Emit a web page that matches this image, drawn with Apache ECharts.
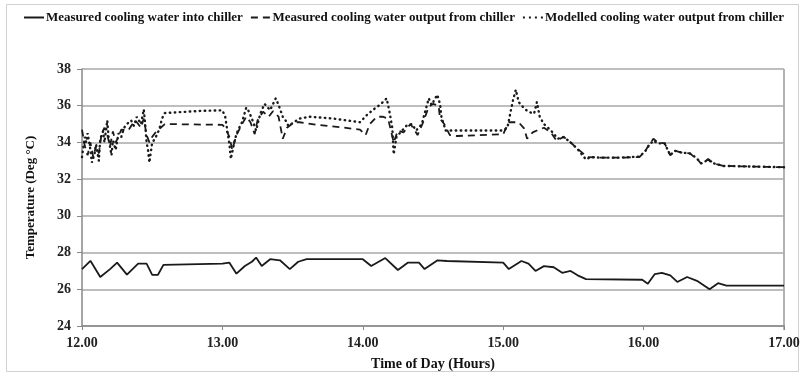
<!DOCTYPE html>
<html>
<head>
<meta charset="utf-8">
<script src="https://cdn.jsdelivr.net/npm/echarts@6/dist/echarts.min.js"></script>
<style>
  html, body { margin: 0; padding: 0; background: #fff; }
  #chart { width: 804px; height: 376px; }
</style>
</head>
<body>
<div id="chart"></div>
<script>
// measured cooling water into chiller (solid)
const inletTime = [12.00,12.06,12.13,12.20,12.25,12.32,12.40,12.46,12.50,12.54,12.58,13.00,13.05,13.10,13.16,13.21,13.24,13.28,13.34,13.41,13.48,13.54,13.60,14.00,14.06,14.16,14.25,14.32,14.40,14.44,14.53,14.60,15.00,15.04,15.13,15.18,15.23,15.29,15.36,15.42,15.48,15.53,15.59,15.99,16.03,16.08,16.13,16.19,16.24,16.31,16.38,16.47,16.53,16.59,17.00]
const inletTemp = [27.1,27.55,26.67,27.1,27.45,26.8,27.4,27.4,26.78,26.78,27.33,27.4,27.45,26.85,27.27,27.5,27.73,27.27,27.64,27.58,27.1,27.5,27.64,27.64,27.27,27.7,27.05,27.45,27.45,27.1,27.57,27.54,27.45,27.1,27.54,27.4,27.0,27.26,27.2,26.9,27.0,26.76,26.55,26.52,26.3,26.83,26.9,26.76,26.4,26.67,26.46,26.0,26.33,26.2,26.2]

// measured cooling water output from chiller (dashed)
const outletTime = [12.00,12.02,12.04,12.06,12.08,12.10,12.12,12.14,12.16,12.18,12.20,12.22,12.24,12.26,12.28,12.33,12.35,12.38,12.42,12.44,12.46,12.48,12.50,12.53,12.56,12.59,13.00,13.02,13.05,13.07,13.10,13.14,13.17,13.20,13.23,13.25,13.29,13.33,13.36,13.40,13.43,13.46,13.51,13.55,13.67,13.84,13.98,14.02,14.05,14.10,14.14,14.18,14.20,14.22,14.25,14.29,14.34,14.37,14.39,14.43,14.47,14.50,14.54,14.55,14.58,14.62,14.67,15.00,15.04,15.11,15.15,15.17,15.21,15.24,15.29,15.34,15.38,15.43,15.48,15.53,15.60,15.69,15.83,15.97,16.01,16.04,16.07,16.10,16.15,16.19,16.22,16.27,16.33,16.38,16.41,16.46,16.50,16.57,17.00]
const outletTemp = [34.7,33.8,33.3,34.0,33.2,33.8,33.4,34.5,34.8,34.4,33.8,34.6,34.0,34.3,34.7,34.65,34.9,35.2,34.8,35.3,34.4,34.0,34.3,34.6,34.8,35.0,34.96,34.8,34.3,33.6,34.4,35.0,35.4,35.1,34.45,35.2,35.67,35.4,35.7,35.4,34.2,34.8,35.1,35.1,34.96,34.83,34.7,34.4,35.0,35.4,35.4,35.3,34.65,34.0,34.65,34.55,35.0,34.65,34.4,35.1,35.95,36.1,36.0,35.3,35.0,34.4,34.35,34.45,35.1,35.1,34.75,34.2,34.55,34.65,34.8,34.55,34.1,34.3,34.0,33.65,33.2,33.17,33.17,33.2,33.5,33.9,34.2,34.0,33.95,33.3,33.55,33.45,33.4,33.1,32.85,33.1,32.85,32.72,32.65]

// modelled cooling water output from chiller (dotted)
const modelTime = [12.00,12.02,12.03,12.04,12.06,12.07,12.09,12.10,12.12,12.13,12.15,12.16,12.18,12.19,12.21,12.22,12.24,12.26,12.28,12.30,12.32,12.35,12.37,12.39,12.42,12.44,12.45,12.46,12.47,12.48,12.50,12.52,12.55,12.57,12.59,12.70,12.85,13.00,13.02,13.05,13.06,13.09,13.11,13.14,13.17,13.19,13.22,13.24,13.27,13.30,13.34,13.38,13.40,13.43,13.45,13.47,13.51,13.55,13.62,13.79,13.98,14.03,14.07,14.13,14.17,14.19,14.21,14.22,14.24,14.28,14.31,14.35,14.38,14.42,14.44,14.47,14.49,14.53,14.55,14.56,14.59,15.00,15.03,15.05,15.07,15.09,15.11,15.15,15.18,15.22,15.24,15.26,15.29,15.34,15.39,15.43,15.48,15.53,15.59,15.62,15.69,15.83,15.97,16.01,16.04,16.07,16.10,16.15,16.19,16.22,16.27,16.33,16.38,16.41,16.46,16.50,16.57,17.00]
const modelTemp = [33.2,34.3,34.0,34.5,33.6,32.9,33.4,33.9,33.0,34.2,34.6,34.0,35.2,34.2,33.3,34.1,33.6,34.5,34.3,34.8,35.0,35.2,34.9,35.4,35.0,35.8,35.0,34.0,33.6,32.9,34.0,34.2,34.7,35.3,35.6,35.65,35.72,35.75,35.4,33.9,33.1,34.2,34.65,35.1,35.9,35.67,35.1,34.65,35.57,36.1,35.76,36.4,36.04,35.4,35.2,34.9,35.1,35.3,35.4,35.3,35.1,35.5,35.76,36.1,36.4,35.67,34.8,33.35,34.3,34.65,34.9,35.0,34.65,35.0,35.57,36.4,36.04,36.6,36.1,35.4,34.65,34.65,34.8,35.57,36.3,36.87,36.2,35.85,35.67,35.57,36.2,35.4,35.0,34.65,34.2,34.3,34.0,33.63,33.07,33.2,33.17,33.17,33.23,33.5,33.86,34.1,33.95,33.95,33.3,33.55,33.45,33.4,33.13,32.86,33.05,32.86,32.72,32.65]

const seriesNames = [
  'Measured cooling water into chiller',
  'Measured cooling water output from chiller',
  'Modelled cooling water output from chiller'
]

const pairs = (xs, ys) => xs.map((x, i) => [x, ys[i]])
const font = 'Liberation Serif'

// legend icons drawn as little line samples
const iconSolid = 'path://M0,0h20v2h-20z'
const iconDashed = 'path://M0,0h7v2h-7z M12,0h7v2h-7z'
const iconDotted = 'path://M0,0h2v2h-2z M6,0h2v2h-2z M12,0h2v2h-2z M18,0h2v2h-2z'

const chart = echarts.init(document.getElementById('chart'))

const option = {
  animation: false,
  backgroundColor: '#fff',
  textStyle: { fontFamily: font },
  graphic: [
    {
      type: 'rect',
      shape: { x: 6.5, y: 4.5, width: 792, height: 367 },
      style: { fill: 'none', stroke: '#d0d0d0', lineWidth: 1 },
      silent: true
    },
    {
      // right border of the plot area
      type: 'line',
      shape: { x1: 784, y1: 69, x2: 784, y2: 330 },
      style: { stroke: '#999', lineWidth: 1.5 },
      silent: true
    }
  ],
  legend: {
    top: 11,
    left: 24,
    width: 780,
    padding: 0,
    itemWidth: 20,
    itemHeight: 2,
    itemGap: 8,
    textStyle: { fontFamily: font, fontWeight: 'bold', fontSize: 13, color: '#111', padding: [0, 0, 0, -3] },
    data: [
      { name: seriesNames[0], icon: iconSolid },
      { name: seriesNames[1], icon: iconDashed },
      { name: seriesNames[2], icon: iconDotted }
    ]
  },
  grid: { left: 82, right: 20, top: 69, bottom: 46 },
  xAxis: {
    type: 'value',
    min: 12,
    max: 17,
    interval: 1,
    name: 'Time of Day (Hours)',
    nameLocation: 'middle',
    nameGap: 31,
    nameTextStyle: { fontFamily: font, fontWeight: 'bold', fontSize: 14, color: '#111' },
    axisLine: { lineStyle: { color: '#888', width: 1.5 } },
    axisTick: { show: true, length: 4, inside: false, lineStyle: { color: '#888' } },
    axisLabel: { formatter: v => v.toFixed(2), fontFamily: font, fontWeight: 'bold', fontSize: 14, color: '#222', margin: 10 },
    splitLine: { show: false }
  },
  yAxis: {
    type: 'value',
    min: 24,
    max: 38,
    interval: 2,
    name: 'Temperature (Deg °C)',
    nameLocation: 'middle',
    nameGap: 45,
    nameRotate: 90,
    nameTextStyle: { fontFamily: font, fontWeight: 'bold', fontSize: 13, color: '#111' },
    axisLine: { show: true, lineStyle: { color: '#888', width: 1.5 } },
    axisTick: { show: true, length: 5, lineStyle: { color: '#888' } },
    axisLabel: { fontFamily: font, fontWeight: 'bold', fontSize: 14, color: '#222', margin: 11 },
    splitLine: { show: true, lineStyle: { color: '#a8a8a8', width: 1.5 } }
  },
  series: [
    {
      name: seriesNames[0],
      type: 'line',
      data: pairs(inletTime, inletTemp),
      showSymbol: false,
      symbol: 'none',
      lineStyle: { color: '#1a1a1a', width: 1.8 },
      itemStyle: { color: '#1a1a1a' }
    },
    {
      name: seriesNames[1],
      type: 'line',
      data: pairs(outletTime, outletTemp),
      showSymbol: false,
      symbol: 'none',
      lineStyle: { color: '#1a1a1a', width: 1.8, type: [7, 5] },
      itemStyle: { color: '#1a1a1a' }
    },
    {
      name: seriesNames[2],
      type: 'line',
      data: pairs(modelTime, modelTemp),
      showSymbol: false,
      symbol: 'none',
      lineStyle: { color: '#1a1a1a', width: 2.4, type: [0.5, 4.5], cap: 'round' },
      itemStyle: { color: '#1a1a1a' }
    }
  ]
}

chart.setOption(option)
</script>
</body>
</html>
